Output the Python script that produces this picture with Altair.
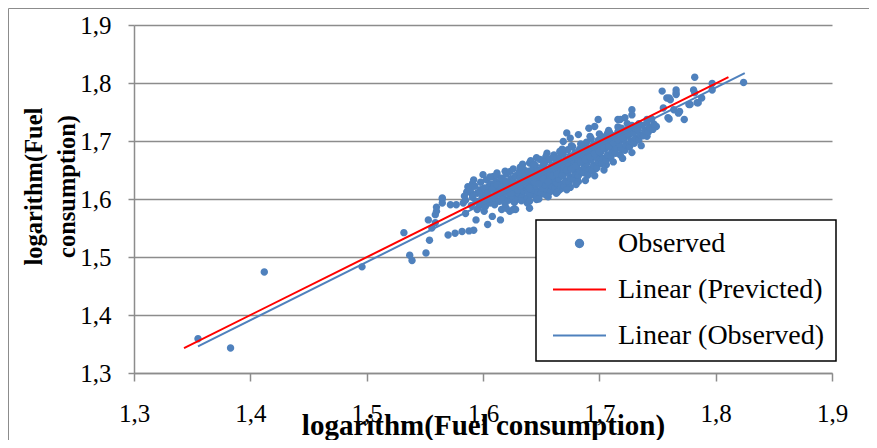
import altair as alt
import pandas as pd

# ---------------- data ----------------
series_names = ["Observed", "Linear (Previcted)", "Linear (Observed)"]
series_colors = ["#4F81BD", "#FF0000", "#4F81BD"]
tick_values = [1.3, 1.4, 1.5, 1.6, 1.7, 1.8, 1.9]

# observed points (x, y)
observed = [
    (1.355, 1.359), (1.383, 1.343), (1.412, 1.474), (1.496, 1.483), (1.532, 1.542),
    (1.537, 1.503), (1.539, 1.494), (1.551, 1.507), (1.554, 1.529), (1.553, 1.564),
    (1.560, 1.579), (1.560, 1.586), (1.565, 1.593), (1.559, 1.559), (1.570, 1.538),
    (1.556, 1.550), (1.565, 1.600), (1.559, 1.573), (1.576, 1.541), (1.582, 1.544),
    (1.588, 1.545), (1.592, 1.546), (1.572, 1.590), (1.577, 1.590), (1.583, 1.593),
    (1.585, 1.575), (1.594, 1.564), (1.595, 1.582), (1.601, 1.579), (1.604, 1.556),
    (1.608, 1.570), (1.615, 1.564), (1.616, 1.582), (1.623, 1.579), (1.628, 1.582),
    (1.620, 1.584), (1.590, 1.610), (1.598, 1.616), (1.605, 1.622), (1.600, 1.642),
    (1.609, 1.639), (1.612, 1.645), (1.619, 1.648), (1.592, 1.633), (1.638, 1.593),
    (1.640, 1.584), (1.646, 1.599), (1.643, 1.622), (1.649, 1.607), (1.655, 1.616),
    (1.659, 1.625), (1.668, 1.619), (1.681, 1.636), (1.679, 1.651), (1.640, 1.662),
    (1.646, 1.671), (1.655, 1.679), (1.699, 1.737), (1.691, 1.722), (1.696, 1.725),
    (1.682, 1.711), (1.675, 1.705), (1.669, 1.699), (1.706, 1.659), (1.697, 1.652),
    (1.687, 1.645), (1.679, 1.639), (1.722, 1.691), (1.716, 1.737), (1.722, 1.740),
    (1.728, 1.754), (1.728, 1.745), (1.732, 1.717), (1.741, 1.708), (1.741, 1.737),
    (1.749, 1.725), (1.755, 1.757), (1.759, 1.740), (1.764, 1.754), (1.768, 1.748),
    (1.773, 1.737), (1.777, 1.763), (1.758, 1.774), (1.761, 1.771), (1.766, 1.780),
    (1.784, 1.766), (1.788, 1.774), (1.716, 1.699), (1.709, 1.714), (1.704, 1.691),
    (1.709, 1.676), (1.713, 1.685), (1.701, 1.671), (1.692, 1.679), (1.683, 1.668),
    (1.678, 1.653), (1.672, 1.665), (1.782, 1.810), (1.754, 1.786), (1.766, 1.788),
    (1.766, 1.783), (1.781, 1.788), (1.782, 1.783), (1.797, 1.799), (1.797, 1.788),
    (1.824, 1.801), (1.785, 1.766), (1.760, 1.738), (1.778, 1.763), (1.769, 1.751),
    (1.760, 1.774), (1.672, 1.714), (1.718, 1.737), (1.689, 1.648), (1.626, 1.582),
    (1.565, 1.602),
    (1.585, 1.598), (1.586, 1.612), (1.584, 1.605), (1.587, 1.621),
    (1.590, 1.589), (1.591, 1.603), (1.589, 1.617), (1.591, 1.627),
    (1.594, 1.596), (1.595, 1.610), (1.593, 1.622), (1.596, 1.585),
    (1.598, 1.591), (1.599, 1.601), (1.597, 1.613), (1.598, 1.629), (1.600, 1.606),
    (1.602, 1.597), (1.603, 1.609), (1.601, 1.619), (1.603, 1.633), (1.602, 1.587),
    (1.606, 1.593), (1.607, 1.604), (1.605, 1.615), (1.607, 1.626), (1.606, 1.638), (1.608, 1.599),
    (1.610, 1.601), (1.611, 1.611), (1.609, 1.621), (1.611, 1.630), (1.610, 1.590), (1.612, 1.641),
    (1.614, 1.596), (1.615, 1.607), (1.613, 1.617), (1.614, 1.628), (1.616, 1.636), (1.615, 1.612),
    (1.618, 1.601), (1.619, 1.611), (1.617, 1.622), (1.618, 1.632), (1.620, 1.643), (1.619, 1.592),
    (1.622, 1.598), (1.623, 1.607), (1.621, 1.616), (1.622, 1.626), (1.624, 1.635), (1.623, 1.647), (1.621, 1.620),
    (1.626, 1.603), (1.627, 1.612), (1.625, 1.621), (1.626, 1.631), (1.628, 1.640), (1.627, 1.594), (1.626, 1.652),
    (1.630, 1.600), (1.631, 1.609), (1.629, 1.618), (1.630, 1.628), (1.632, 1.637), (1.631, 1.646), (1.630, 1.615),
    (1.634, 1.605), (1.635, 1.614), (1.633, 1.624), (1.634, 1.632), (1.636, 1.641), (1.635, 1.651), (1.633, 1.597), (1.634, 1.660),
    (1.638, 1.602), (1.639, 1.611), (1.637, 1.620), (1.638, 1.630), (1.640, 1.638), (1.639, 1.648), (1.637, 1.625),
    (1.642, 1.607), (1.643, 1.616), (1.641, 1.626), (1.642, 1.634), (1.644, 1.644), (1.643, 1.654), (1.641, 1.666), (1.642, 1.630),
    (1.646, 1.604), (1.647, 1.613), (1.645, 1.622), (1.646, 1.632), (1.648, 1.641), (1.647, 1.650), (1.645, 1.658), (1.646, 1.636),
    (1.650, 1.610), (1.651, 1.619), (1.649, 1.628), (1.650, 1.638), (1.652, 1.646), (1.651, 1.656), (1.649, 1.668), (1.650, 1.641),
    (1.654, 1.607), (1.655, 1.617), (1.653, 1.625), (1.654, 1.634), (1.656, 1.644), (1.655, 1.652), (1.653, 1.662), (1.654, 1.673), (1.656, 1.639),
    (1.658, 1.613), (1.659, 1.622), (1.657, 1.632), (1.658, 1.640), (1.660, 1.650), (1.659, 1.658), (1.657, 1.668), (1.658, 1.645),
    (1.662, 1.619), (1.663, 1.628), (1.661, 1.637), (1.662, 1.647), (1.664, 1.655), (1.663, 1.665), (1.661, 1.676), (1.662, 1.651), (1.663, 1.610),
    (1.666, 1.616), (1.667, 1.625), (1.665, 1.635), (1.666, 1.643), (1.668, 1.652), (1.667, 1.661), (1.665, 1.671), (1.666, 1.682), (1.667, 1.648),
    (1.670, 1.622), (1.671, 1.631), (1.669, 1.641), (1.670, 1.649), (1.672, 1.658), (1.671, 1.668), (1.669, 1.677), (1.670, 1.655),
    (1.674, 1.628), (1.675, 1.637), (1.673, 1.646), (1.674, 1.656), (1.676, 1.664), (1.675, 1.674), (1.673, 1.685), (1.674, 1.660), (1.675, 1.620),
    (1.678, 1.634), (1.679, 1.643), (1.677, 1.652), (1.678, 1.662), (1.680, 1.670), (1.679, 1.680), (1.677, 1.690), (1.678, 1.666),
    (1.682, 1.640), (1.683, 1.649), (1.681, 1.659), (1.682, 1.667), (1.684, 1.677), (1.683, 1.686), (1.681, 1.672), (1.682, 1.630),
    (1.686, 1.646), (1.687, 1.655), (1.685, 1.664), (1.686, 1.674), (1.688, 1.682), (1.687, 1.692), (1.685, 1.678),
    (1.690, 1.641), (1.691, 1.652), (1.689, 1.661), (1.690, 1.671), (1.692, 1.679), (1.691, 1.688), (1.689, 1.698), (1.690, 1.684),
    (1.694, 1.648), (1.695, 1.658), (1.693, 1.667), (1.694, 1.676), (1.696, 1.686), (1.695, 1.694), (1.693, 1.704),
    (1.698, 1.654), (1.699, 1.664), (1.697, 1.673), (1.698, 1.683), (1.700, 1.691), (1.699, 1.701), (1.697, 1.687),
    (1.702, 1.661), (1.703, 1.670), (1.701, 1.680), (1.702, 1.688), (1.704, 1.697), (1.703, 1.707),
    (1.706, 1.667), (1.707, 1.676), (1.705, 1.686), (1.706, 1.694), (1.708, 1.703), (1.707, 1.713),
    (1.710, 1.673), (1.711, 1.682), (1.709, 1.691), (1.710, 1.701), (1.712, 1.709), (1.711, 1.695),
    (1.714, 1.679), (1.715, 1.688), (1.713, 1.698), (1.714, 1.706), (1.716, 1.716),
    (1.718, 1.676), (1.719, 1.686), (1.717, 1.695), (1.718, 1.704), (1.720, 1.713), (1.719, 1.722),
    (1.722, 1.684), (1.723, 1.693), (1.721, 1.702), (1.722, 1.711), (1.724, 1.720),
    (1.726, 1.690), (1.727, 1.699), (1.725, 1.708), (1.726, 1.717), (1.728, 1.727),
    (1.730, 1.696), (1.731, 1.705), (1.729, 1.714), (1.730, 1.723),
    (1.734, 1.702), (1.735, 1.711), (1.733, 1.720), (1.734, 1.730),
    (1.738, 1.709), (1.739, 1.718), (1.737, 1.727),
    (1.742, 1.715), (1.743, 1.724), (1.741, 1.733),
    (1.746, 1.720), (1.747, 1.729), (1.745, 1.738),
    (1.604, 1.611), (1.608, 1.617), (1.612, 1.624), (1.616, 1.620), (1.620, 1.630),
    (1.624, 1.610), (1.628, 1.626), (1.632, 1.622), (1.636, 1.628), (1.640, 1.618),
    (1.644, 1.630), (1.648, 1.626), (1.652, 1.634), (1.656, 1.630), (1.660, 1.640),
    (1.664, 1.643), (1.668, 1.640), (1.672, 1.650), (1.676, 1.652), (1.680, 1.657),
    (1.684, 1.664), (1.688, 1.668), (1.692, 1.672), (1.696, 1.678), (1.700, 1.682),
    (1.704, 1.688), (1.708, 1.690), (1.712, 1.697), (1.716, 1.702), (1.720, 1.706),
    (1.724, 1.712), (1.632, 1.655), (1.644, 1.660), (1.652, 1.664), (1.660, 1.671),
    (1.668, 1.686), (1.676, 1.692), (1.684, 1.695), (1.692, 1.708), (1.700, 1.712),
    (1.708, 1.718), (1.716, 1.724), (1.724, 1.730), (1.640, 1.596), (1.648, 1.600),
    (1.656, 1.604), (1.664, 1.612), (1.672, 1.616), (1.680, 1.625), (1.688, 1.632),
    (1.696, 1.640), (1.704, 1.650), (1.712, 1.664), (1.720, 1.670), (1.728, 1.680),
    (1.736, 1.692),
]

# trend lines (end points)
pred_line_x = [1.343, 1.811]
pred_line_y = [1.343, 1.810]
obs_line_x = [1.355, 1.825]
obs_line_y = [1.346, 1.817]

# ---------------- chart ----------------
W, H = 698, 348
SERIF = "Liberation Serif"
GRID = "#8c8c8c"

df_obs = pd.DataFrame(observed, columns=["x", "y"])
df_obs["series"] = series_names[0]
df_pred = pd.DataFrame({"x": pred_line_x, "y": pred_line_y, "series": series_names[1]})
df_oline = pd.DataFrame({"x": obs_line_x, "y": obs_line_y, "series": series_names[2]})

circle_path = "M-0.14,0A0.14,0.14,0,1,1,0.14,0A0.14,0.14,0,1,1,-0.14,0Z"
line_path = "M-1,0L1,0"

label_expr = "replace(format(datum.value, '.1f'), '.', ',')"

x_scale = alt.Scale(domain=[1.3, 1.9], nice=False, zero=False)
y_scale = alt.Scale(domain=[1.3, 1.9], nice=False, zero=False)

x_axis = alt.Axis(
    values=tick_values, labelExpr=label_expr, grid=False,
    title="logarithm(Fuel consumption)",
    tickSize=8, tickColor=GRID, domainColor=GRID, domainWidth=1.5, tickWidth=1.5,
    labelFont=SERIF, labelFontSize=25, labelColor="black",
    labelBaseline="alphabetic", labelPadding=40, labelFlush=False,
    titleFont=SERIF, titleFontSize=29, titleFontWeight="bold", titleColor="black",
    titleBaseline="alphabetic", titleY=61, titleX=W / 2,
)
y_axis = alt.Axis(
    values=tick_values, labelExpr=label_expr, grid=True,
    gridColor=GRID, gridWidth=1.5,
    title=["logarithm(Fuel", "consumption)"],
    tickSize=6, tickColor=GRID, domainColor=GRID, domainWidth=1.5, tickWidth=1.5,
    labelFont=SERIF, labelFontSize=25, labelColor="black", labelPadding=17,
    titleFont=SERIF, titleFontSize=24.5, titleFontWeight="bold", titleColor="black",
    titleBaseline="alphabetic", titleAngle=270, titleX=-93, titleY=161,
    titleLineHeight=33,
)

legend = alt.Legend(
    title=None, orient="none", legendX=402, legendY=195,
    padding=11, rowPadding=17, clipHeight=25,
    symbolSize=2809, symbolStrokeWidth=2, symbolOpacity=1, symbolOffset=5,
    labelOffset=11, labelFont=SERIF, labelFontSize=28, labelColor="black",
    labelLimit=400, strokeColor="black", fillColor="white",
)

color_enc = alt.Color("series:N", scale=alt.Scale(domain=series_names, range=series_colors), legend=legend)
shape_enc = alt.Shape("series:N", scale=alt.Scale(domain=series_names, range=[circle_path, line_path, line_path]), legend=legend)

frame = alt.Chart(pd.DataFrame({"f": [0]})).mark_rect(
    fill="transparent", stroke="#8c8c8c", strokeWidth=1
).encode(
    x=alt.value(-125.5), x2=alt.value(W + 300),
    y=alt.value(-16.5), y2=alt.value(H + 300),
)

points = alt.Chart(df_obs).mark_point(filled=True, size=2809, opacity=1).encode(
    x=alt.X("x:Q", scale=x_scale, axis=x_axis),
    y=alt.Y("y:Q", scale=y_scale, axis=y_axis),
    color=color_enc,
    shape=shape_enc,
)

pred_line = alt.Chart(df_pred).mark_line(strokeWidth=2).encode(
    x="x:Q", y="y:Q", color=color_enc,
)
obs_line = alt.Chart(df_oline).mark_line(strokeWidth=2).encode(
    x="x:Q", y="y:Q", color=color_enc,
)

chart = alt.layer(frame, points, pred_line, obs_line).properties(
    width=W, height=H,
    autosize=alt.AutoSizeParams(type="none"),
    padding={"left": 126, "top": 17, "right": 37, "bottom": 67},
    background="white",
).configure_view(stroke=None).configure_legend(strokeWidth=1.5)

chart.save("out.html", embed_options={"renderer": "svg", "actions": False})
